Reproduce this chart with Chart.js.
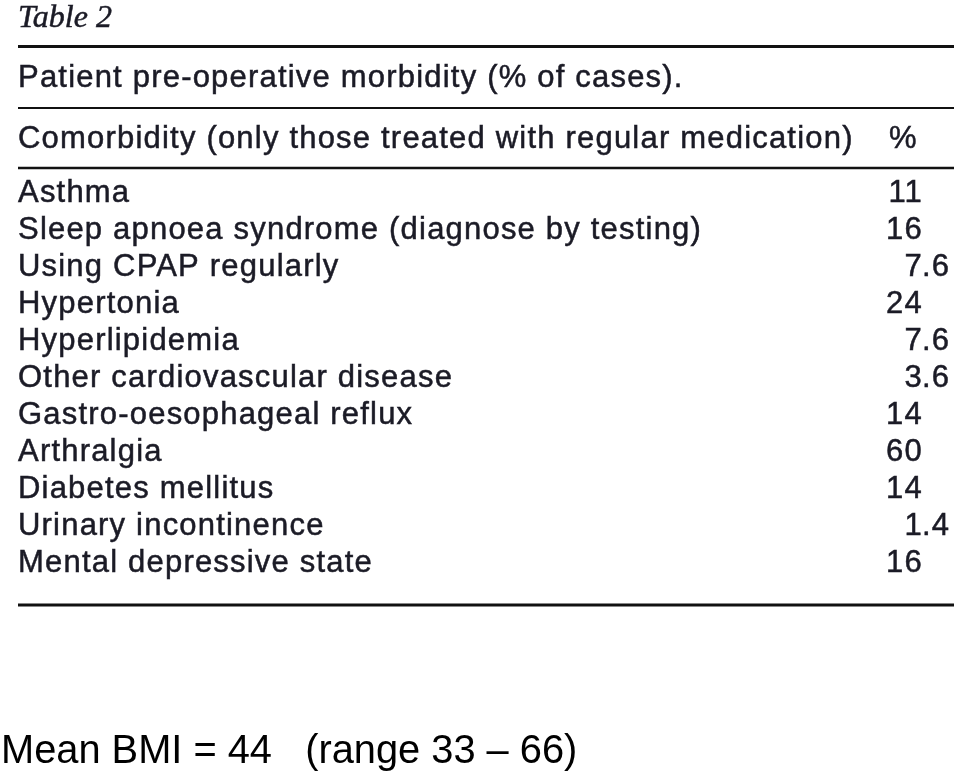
<!DOCTYPE html>
<html lang="en">
<head>
    <meta charset="UTF-8">
    <title>Table 2</title>
    <script src="https://cdn.jsdelivr.net/npm/chart.js"></script>
    <style>
        html, body { margin: 0; padding: 0; background: #fff; }
        #wrap { width: 960px; height: 772px; }
    </style>
</head>
<body>
    <div id="wrap"><canvas id="tableChart"></canvas></div>

    <script>
        // table content
        const tableLabel = 'Table 2';
        const caption = 'Patient pre-operative morbidity (% of cases).';
        const columnHeaders = ['Comorbidity (only those treated with regular medication)', '%'];
        const comorbidities = [
            'Asthma',
            'Sleep apnoea syndrome (diagnose by testing)',
            'Using CPAP regularly',
            'Hypertonia',
            'Hyperlipidemia',
            'Other cardiovascular disease',
            'Gastro-oesophageal reflux',
            'Arthralgia',
            'Diabetes mellitus',
            'Urinary incontinence',
            'Mental depressive state'
        ];
        const percentages = ['11', '16', '7.6', '24', '7.6', '3.6', '14', '60', '14', '1.4', '16'];
        const footnote = 'Mean BMI = 44   (range 33 \u2013 66)';

        const textColor = '#1b1b26';
        const bodyFont = '31px "Liberation Sans", Arial, sans-serif';

        function rule(ctx, y, w) {
            ctx.save();
            ctx.strokeStyle = '#111';
            ctx.lineWidth = w;
            ctx.beginPath();
            ctx.moveTo(18, y);
            ctx.lineTo(954, y);
            ctx.stroke();
            ctx.restore();
        }

        // scanned text looks a little heavier, so stroke it thinly too
        function txt(ctx, s, x, y) {
            ctx.fillText(s, x, y);
            ctx.strokeText(s, x, y);
        }

        const tablePlugin = {
            id: 'tablePlugin',
            afterDraw(chart) {
                const ctx = chart.ctx;
                const yScale = chart.scales.y;
                ctx.save();
                ctx.fillStyle = textColor;
                ctx.strokeStyle = textColor;
                ctx.lineWidth = 0.5;
                ctx.textBaseline = 'alphabetic';

                // title
                ctx.font = 'italic 32px "Liberation Serif", "Times New Roman", serif';
                ctx.textAlign = 'left';
                txt(ctx, tableLabel, 18, 27);
                rule(ctx, 46.5, 3);

                ctx.font = bodyFont;
                ctx.letterSpacing = '1.2px';
                txt(ctx, caption, 18, 87);
                rule(ctx, 108, 2);

                txt(ctx, columnHeaders[0], 18, 148);
                txt(ctx, columnHeaders[1], 889, 148);
                rule(ctx, 168, 2.5);

                // rows placed by the category scale
                comorbidities.forEach((name, i) => {
                    const y = yScale.getPixelForValue(i) + 10.5;
                    ctx.textAlign = 'left';
                    txt(ctx, name, 18, y);
                    const parts = percentages[i].split('.');
                    ctx.textAlign = 'right';
                    txt(ctx, parts[0], 923, y);
                    if (parts.length > 1) {
                        ctx.textAlign = 'left';
                        txt(ctx, '.' + parts[1], 922, y);
                    }
                });
                rule(ctx, 605, 3);

                // footnote
                ctx.letterSpacing = '0px';
                ctx.textAlign = 'left';
                ctx.fillStyle = '#000';
                ctx.font = '39.8px "Liberation Sans", Arial, sans-serif';
                ctx.fillText(footnote, 1, 763);
                ctx.restore();
            }
        };

        new Chart(document.getElementById('tableChart'), {
            type: 'scatter',
            data: {
                labels: comorbidities,
                datasets: [{
                    data: comorbidities.map((c, i) => ({ x: 0.5, y: c })),
                    pointRadius: 0,
                    pointHoverRadius: 0
                }]
            },
            options: {
                responsive: true,
                maintainAspectRatio: false,
                animation: false,
                layout: { padding: { top: 173, bottom: 192, left: 0, right: 0 } },
                scales: {
                    x: { type: 'linear', min: 0, max: 1, display: false },
                    y: { type: 'category', labels: comorbidities, offset: true, display: false }
                },
                plugins: {
                    legend: { display: false },
                    tooltip: { enabled: false }
                }
            },
            plugins: [tablePlugin]
        });
    </script>
</body>
</html>
